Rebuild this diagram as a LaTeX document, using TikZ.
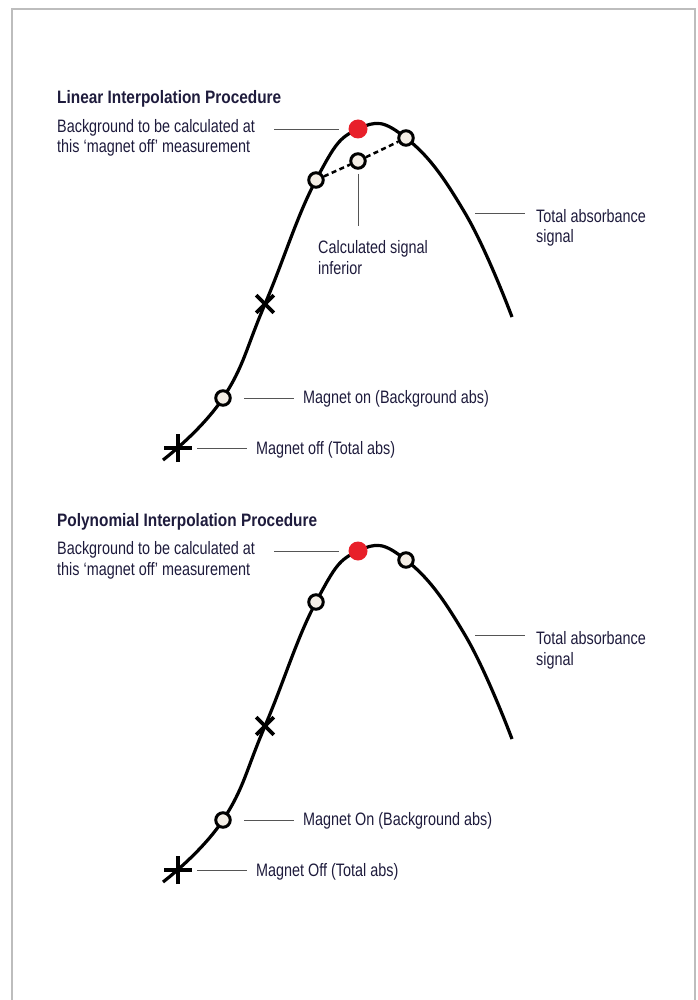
\documentclass[tikz,border=0pt]{standalone}
\usepackage{fontspec}
\setmainfont{Liberation Sans}[FakeStretch=0.8, BoldFeatures={FakeStretch=0.855}]
\usepackage{tikz}
\usetikzlibrary{shapes.misc}
\definecolor{inktext}{HTML}{1E1B3C}
\definecolor{leadergray}{HTML}{555555}
\definecolor{markred}{HTML}{E8202A}
\definecolor{markfill}{HTML}{F4EEE6}
\definecolor{framegray}{HTML}{BDBDBD}

\begin{document}
\begin{tikzpicture}[x=1pt, y=-1pt,
    curve/.style={line width=3.2pt, line join=round},
    openmark/.style={circle, draw=black, line width=3pt, fill=markfill, minimum size=14.5pt, inner sep=0pt},
    redmark/.style={circle, fill=markred, minimum size=19pt, inner sep=0pt},
    xmark/.style={cross out, draw=black, line width=3.6pt, minimum size=14pt, inner sep=0pt},
    plusmark/.style={xmark, line width=4.8pt, rotate=45, minimum size=15pt},
    leader/.style={line width=0.9pt, color=leadergray},
    callout/.style={font=\fontsize{18}{20.5}\selectfont, text=inktext, anchor=base west, inner sep=0pt, align=left},
    headline/.style={callout, font=\bfseries\fontsize{18}{20.5}\selectfont},
  ]
  \useasboundingbox (0,0) rectangle (697,1000);
  % Page frame, open at the bottom
  \draw[framegray, line width=1.2pt] (12,1000) -- (12,9) -- (695,9) -- (695,1000);

  % Both panels: same signal curve, shifted down
  \foreach \p/\dy/\kind/\onword/\offword in {1/0/Linear/on/off, 2/422/Polynomial/On/Off} {
    \begin{scope}[shift={(0,\dy)}]
      \node[headline] (head\p) at (57,104) {\kind\ Interpolation Procedure};
      % base of a two-line node = its last line
      \node[callout] (bglab\p) at (57,153) {Background to be calculated at\\this ‘magnet off’ measurement};

      \draw[curve] plot[smooth, tension=0.75] coordinates {(163,460) (223,398) (265,304) (316,180) (358,129) (406,138) (465,213) (512,317)};
      \node[redmark] (bg\p) at (358,129) {};
      \node[openmark] (left\p) at (316,180) {};
      \node[openmark] (right\p) at (406,138) {};
      \node[xmark] (mid\p) at (265,304) {};
      \node[openmark] (on\p) at (223,398) {};
      \node[plusmark] (off\p) at (178,448) {};
      \coordinate (tot\p) at (465,213);

      \node[callout] (totlab\p) at (536,243) {Total absorbance\\signal};
      \node[callout, anchor=west] (onlab\p) at (303,399) {Magnet \onword\ (Background abs)};
      \node[callout, anchor=west] (offlab\p) at (256,450) {Magnet \offword\ (Total abs)};

      \draw[leader] ([xshift=-84pt]bg\p.center) -- ([xshift=-19pt]bg\p.center);
      \draw[leader] ([xshift=10pt]tot\p) -- ([xshift=60pt]tot\p);
      \draw[leader] ([xshift=21pt]on\p.center) -- ([xshift=71pt]on\p.center);
      \draw[leader] ([xshift=19pt]off\p.center) -- ([xshift=69pt]off\p.center);
    \end{scope}
  }

  % Linear panel only: interpolated point
  \node[openmark] (calc1) at (358,161) {};
  \draw[line width=2.5pt, dash pattern=on 5pt off 3.5pt] (left1) -- (calc1) -- (right1);
  \node[callout] (calclab1) at (318,274) {Calculated signal\\inferior};
  \draw[leader] ([yshift=-13pt]calc1.center) -- ([yshift=-65pt]calc1.center);
\end{tikzpicture}
\end{document}
